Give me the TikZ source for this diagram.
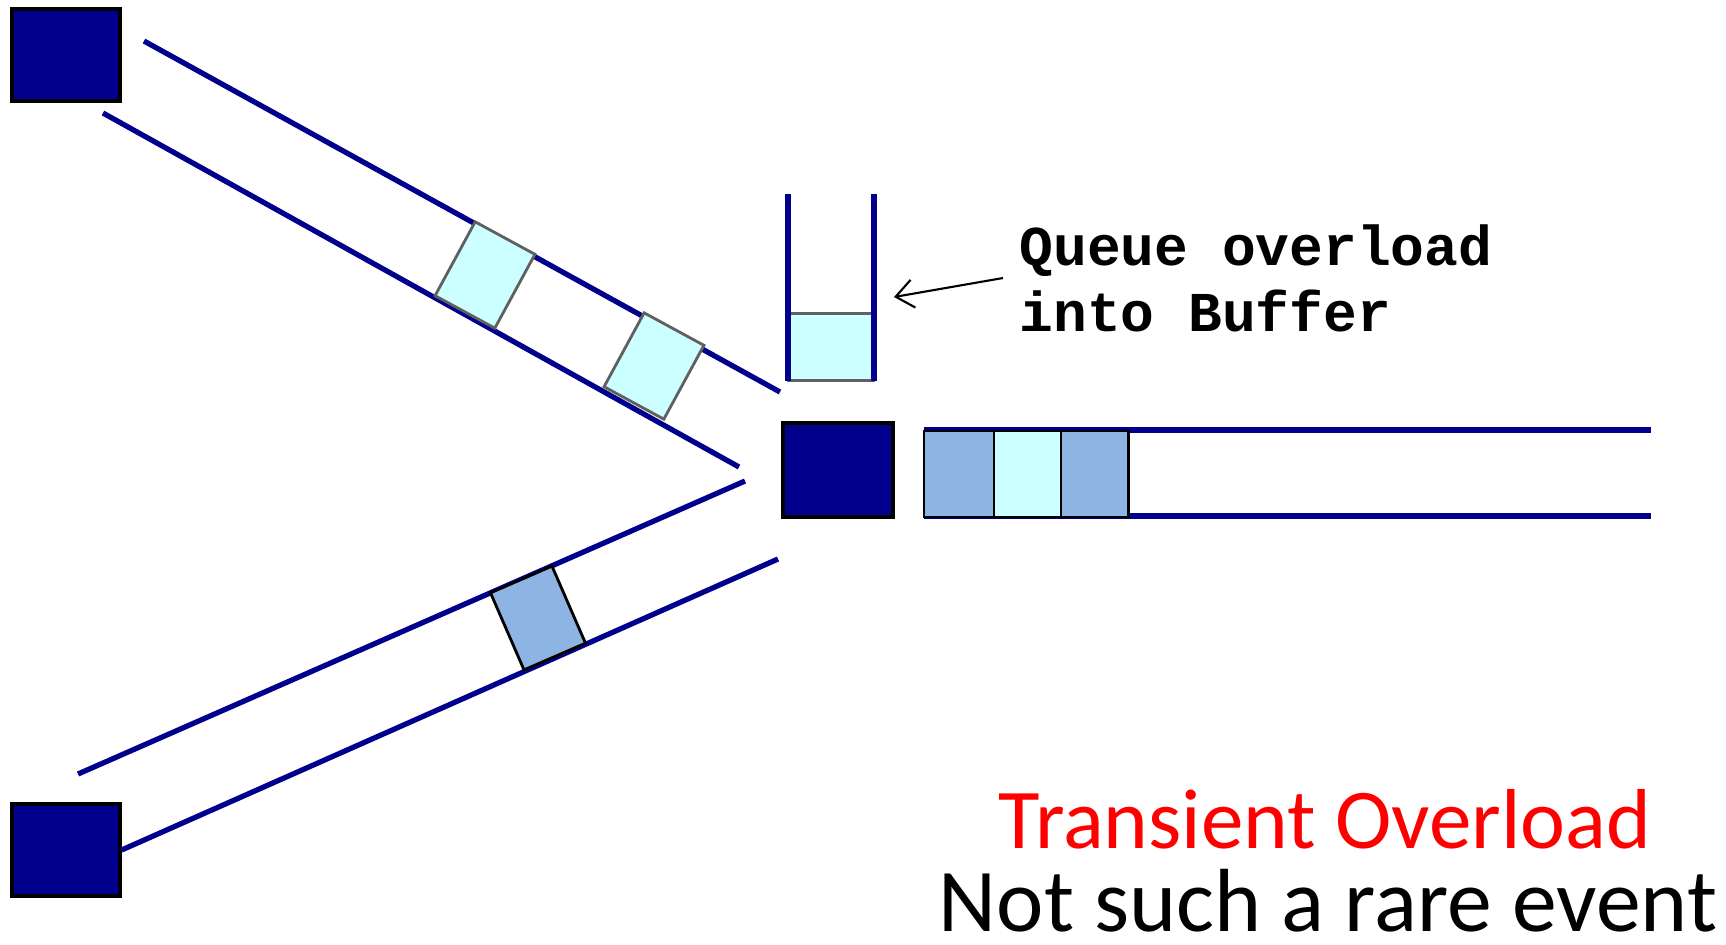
\documentclass[tikz,border=0pt]{standalone}
\usepackage{fontspec}
\setmainfont{Carlito}
\newfontfamily\calloutfont{Liberation Mono}
\usetikzlibrary{arrows.meta, positioning}
\definecolor{navy}{RGB}{0,0,140}
\definecolor{pktcyan}{RGB}{204,255,255}
\definecolor{pktblue}{RGB}{142,180,227}
\definecolor{pktgray}{RGB}{96,96,96}
\tikzstyle{host} = [draw=black, line width=0.9pt, fill=navy, minimum width=1.08cm, minimum height=0.92cm, inner sep=0pt]
\tikzstyle{wire} = [draw=navy, line width=1.5pt]
\tikzstyle{packet} = [draw=black, line width=0.8pt, minimum width=0.68cm, minimum height=0.84cm, inner sep=0pt, outer sep=0pt]
\tikzstyle{callarrow} = [line width=0.6pt, -{Straight Barb[length=5pt,width=8pt]}]

\begin{document}
\begin{tikzpicture}[x=0.01cm, y=-0.01cm]
    \useasboundingbox (0,0) rectangle (1726,944);

    % senders and router
    \node[host] (src1) at (66,55) {};
    \node[host] (src2) at (66,850) {};
    \node[host, minimum width=1.10cm, minimum height=0.94cm] (router) at (838,470) {};

    % upper link
    \coordinate (ua) at (144,41);
    \coordinate (ub) at (780,392);
    \coordinate (uc) at (103,113);
    \coordinate (ud) at (739,467);
    \draw[wire] (ua) -- (ub);
    \draw[wire] (uc) -- (ud);

    % lower link
    \coordinate (la) at (78,774);
    \coordinate (lb) at (745,481);
    \coordinate (ld) at (778,559);
    \draw[wire] (la) -- (lb);
    \draw[wire] (src2.east) -- (ld);

    % packets in flight
    \node[packet, draw=pktgray, fill=pktcyan, rotate=-28.5] (pk1) at (485,275) {};
    \node[packet, draw=pktgray, fill=pktcyan, rotate=-28.5] (pk2) at (654,366) {};
    \node[packet, fill=pktblue, rotate=23.5, minimum width=0.67cm] (pk3) at (538,618) {};

    % outgoing link with queued packets
    \coordinate (oa) at (924,430);
    \coordinate (ob) at (1651,430);
    \coordinate (oc) at (924,516);
    \coordinate (od) at (1651,516);
    \draw[wire] (oa) -- (ob);
    \draw[wire] (oc) -- (od);
    \node[packet, fill=pktblue, minimum width=0.70cm, minimum height=0.86cm] (out1) at (959,474) {};
    \node[packet, fill=pktcyan, minimum width=0.67cm, minimum height=0.86cm, right=0pt of out1] (out2) {};
    \node[packet, fill=pktblue, minimum width=0.67cm, minimum height=0.86cm, right=0pt of out2] (out3) {};

    % buffer
    \coordinate (qtop) at (0,194);
    \node[packet, draw=pktgray, fill=pktcyan, minimum width=0.86cm, minimum height=0.67cm] (qpkt) at (831,347) {};
    \draw[wire] (qpkt.south west) -- (qpkt.south west |- qtop);
    \draw[wire] (qpkt.south east) -- (qpkt.south east |- qtop);

    % callout
    \node[anchor=west, inner sep=4.5pt, align=left, font=\calloutfont\bfseries\fontsize{16}{18.7}\selectfont] (note) at (1003,278) {Queue overload\\into Buffer};
    \coordinate (qmark) at (894,297);
    \draw[callarrow] (note.west) -- (qmark);

    \node[anchor=base, inner sep=0pt, text=red, font=\fontsize{24.2}{28}\selectfont] (title) at (1325,848) {Transient Overload};
    \node[anchor=base, inner sep=0pt, font=\fontsize{25.5}{28}\selectfont] (subtitle) at (1328,931) {Not such a rare event};
\end{tikzpicture}
\end{document}
